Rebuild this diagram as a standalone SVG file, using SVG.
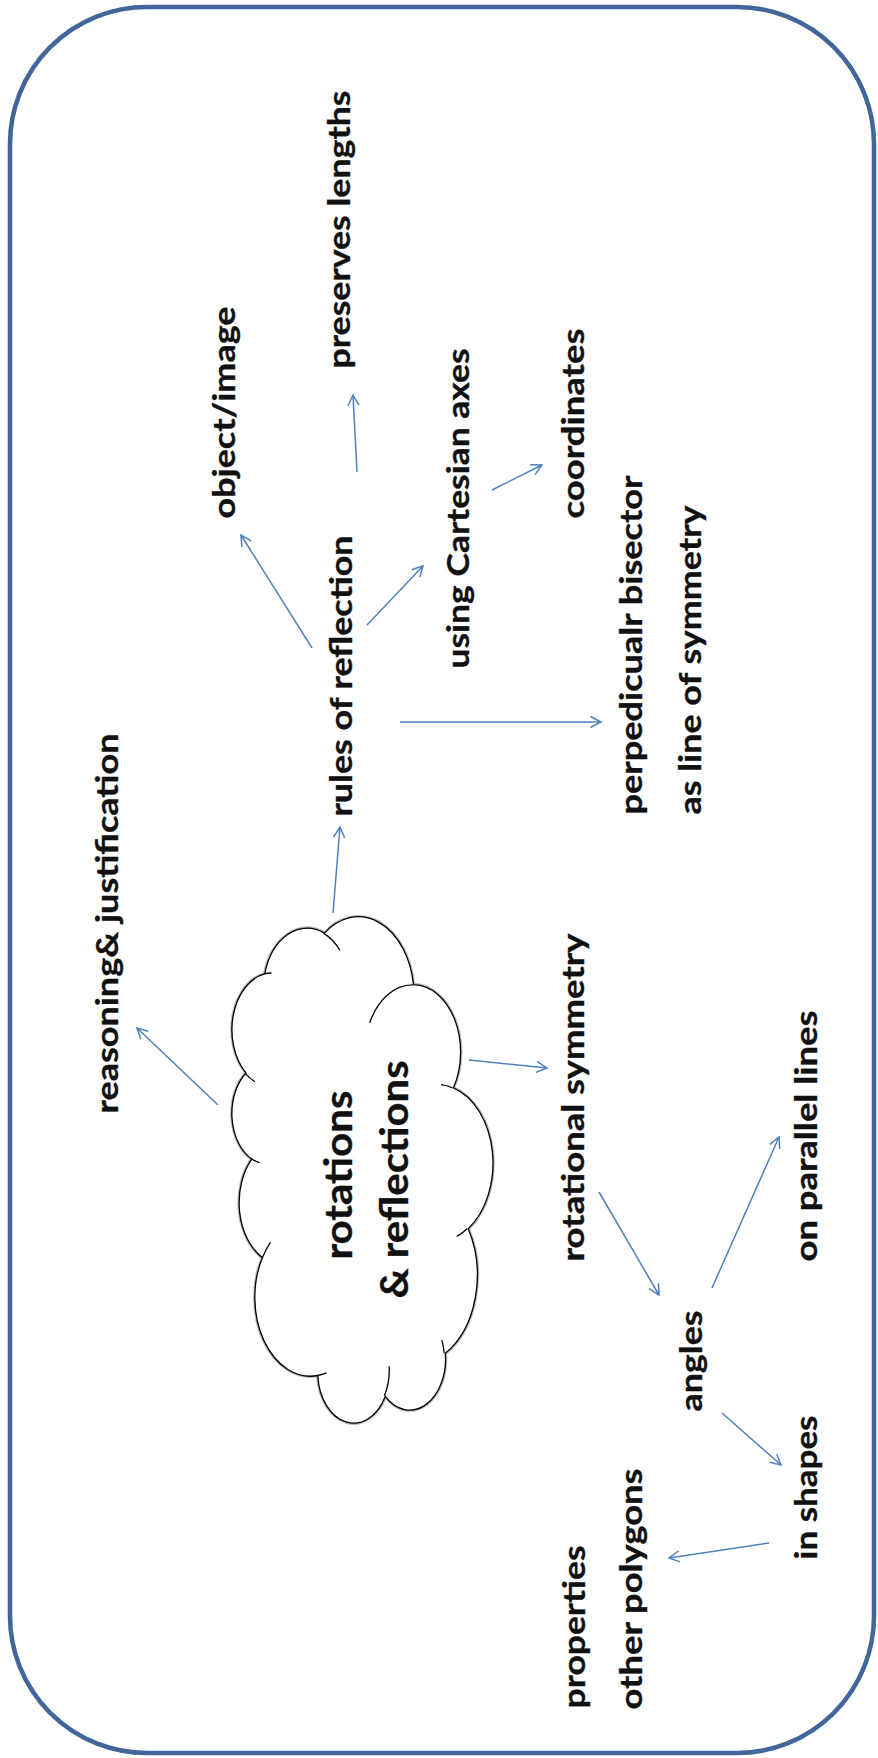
<svg xmlns="http://www.w3.org/2000/svg" width="878" height="1758" viewBox="0 0 878 1758">
  <style>
    .lbl { font-family: "Lato", "Open Sans", "Liberation Sans", sans-serif; font-weight: 700; font-size: 31px; fill: #111; stroke: #111; stroke-width: 0.35; }
    .big { font-size: 39px; }
    .edge { stroke: #4F81BD; stroke-width: 1.5; fill: none; marker-end: url(#arrow); }
    .cloud-shadow { fill: none; stroke: #b8b8b8; stroke-width: 3.5; }
    .cloud-body { fill: #fff; stroke: #000; stroke-width: 1.3; }
    .cloud-line { fill: none; stroke: #000; stroke-width: 1.3; }
  </style>
  <defs>
    <marker id="arrow" markerUnits="userSpaceOnUse" markerWidth="14" markerHeight="14" viewBox="0 0 14 14" refX="12" refY="7" orient="auto">
      <path d="M1.5,1.5 L12,7 L1.5,12.5" fill="none" stroke="#4F81BD" stroke-width="1.5"/>
    </marker>
  </defs>

  <rect x="0" y="0" width="878" height="1758" fill="#fff"/>

  <!-- frame -->
  <rect id="frame" x="10" y="7" width="864" height="1746" rx="137" ry="137" fill="#fff" stroke="#40669A" stroke-width="4.5"/>

  <!-- connectors -->
  <g id="connectors">
    <line class="edge" x1="333" y1="913" x2="340" y2="827"/>
    <line class="edge" x1="312" y1="648" x2="241" y2="535"/>
    <line class="edge" x1="357" y1="472" x2="353" y2="395"/>
    <line class="edge" x1="367" y1="625" x2="423" y2="566"/>
    <line class="edge" x1="492" y1="490" x2="542" y2="465"/>
    <line class="edge" x1="400" y1="722" x2="601" y2="722"/>
    <line class="edge" x1="218" y1="1105" x2="137" y2="1028"/>
    <line class="edge" x1="469" y1="1060" x2="547" y2="1068"/>
    <line class="edge" x1="599" y1="1192" x2="659" y2="1295"/>
    <line class="edge" x1="712" y1="1288" x2="779" y2="1137"/>
    <line class="edge" x1="722" y1="1413" x2="781" y2="1465"/>
    <line class="edge" x1="769" y1="1543" x2="669" y2="1558"/>
  </g>

  <!-- central cloud: drawn in 43200-unit shape space, then turned upright -->
  <g id="node-cloud">
    <g transform="matrix(0 -0.011667 0.006042 0 231 1421)">
      <path class="cloud-shadow" vector-effect="non-scaling-stroke" d="M3900,14370 A6753,9190 0 0 1 14004,5202 A5333,7267 0 0 1 22455,3432 A4365,5945 0 0 1 29832,2481 A4857,6595 0 0 1 38317,5576 A5333,7273 0 0 1 41818,15460 A6775,9220 0 0 1 37403,30202 A5785,7867 0 0 1 28555,36812 A6752,9215 0 0 1 16479,39263 A7720,10543 0 0 1 5804,35470 A4360,5918 0 0 1 2113,25547 A4345,5945 0 0 1 3900,14370 Z"/>
      <path class="cloud-body" vector-effect="non-scaling-stroke" d="M3900,14370 A6753,9190 0 0 1 14004,5202 A5333,7267 0 0 1 22455,3432 A4365,5945 0 0 1 29832,2481 A4857,6595 0 0 1 38317,5576 A5333,7273 0 0 1 41818,15460 A6775,9220 0 0 1 37403,30202 A5785,7867 0 0 1 28555,36812 A6752,9215 0 0 1 16479,39263 A7720,10543 0 0 1 5804,35470 A4360,5918 0 0 1 2113,25547 A4345,5945 0 0 1 3900,14370 Z"/>
      <path class="cloud-line" vector-effect="non-scaling-stroke" d="M4693,26177 A4345,5945 0 0 1 2159,25379 M6928,34899 A4360,5918 0 0 1 5820,35280 M16478,39090 A6752,9215 0 0 1 15810,37349 M28827,34751 A6752,9215 0 0 1 28560,36660 M34129,22954 A5785,7867 0 0 1 37381,30090 M41798,15354 A5333,7273 0 0 1 40350,18030 M38324,5426 A4857,6595 0 0 1 38400,6690 M29078,3952 A4857,6595 0 0 1 29820,2341 M22141,4720 A4365,5945 0 0 1 22500,3330 M14000,5192 A6753,9190 0 0 1 15301,6541 M4127,15789 A6753,9190 0 0 1 3900,14370"/>
    </g>
    <text class="lbl big" transform="translate(352,1259.5) rotate(-90)" textLength="169" lengthAdjust="spacingAndGlyphs">rotations</text>
    <text class="lbl big" transform="translate(408,1298.5) rotate(-90)" textLength="238" lengthAdjust="spacingAndGlyphs">&amp; reflections</text>
  </g>

  <g id="node-preserves">
    <text class="lbl" transform="translate(350,368.5) rotate(-90)" textLength="278" lengthAdjust="spacingAndGlyphs">preserves lengths</text>
  </g>
  <g id="node-object">
    <text class="lbl" transform="translate(235,518.5) rotate(-90)" textLength="212" lengthAdjust="spacingAndGlyphs">object/image</text>
  </g>
  <g id="node-cartesian">
    <text class="lbl" transform="translate(469,668.5) rotate(-90)" textLength="320" lengthAdjust="spacingAndGlyphs">using Cartesian axes</text>
  </g>
  <g id="node-coordinates">
    <text class="lbl" transform="translate(584,518.5) rotate(-90)" textLength="190" lengthAdjust="spacingAndGlyphs">coordinates</text>
  </g>
  <g id="node-bisector">
    <text class="lbl" transform="translate(642,814.5) rotate(-90)" textLength="339" lengthAdjust="spacingAndGlyphs">perpedicualr bisector</text>
    <text class="lbl" transform="translate(701,814.5) rotate(-90)" textLength="309" lengthAdjust="spacingAndGlyphs">as line of symmetry</text>
  </g>
  <g id="node-rules">
    <text class="lbl" transform="translate(352,816.5) rotate(-90)" textLength="281" lengthAdjust="spacingAndGlyphs">rules of reflection</text>
  </g>
  <g id="node-reasoning">
    <text class="lbl" transform="translate(118,1113.5) rotate(-90)" textLength="380" lengthAdjust="spacingAndGlyphs">reasoning&amp; justification</text>
  </g>
  <g id="node-rotational">
    <text class="lbl" transform="translate(584,1261.5) rotate(-90)" textLength="328" lengthAdjust="spacingAndGlyphs">rotational symmetry</text>
  </g>
  <g id="node-parallel">
    <text class="lbl" transform="translate(817,1261.5) rotate(-90)" textLength="251" lengthAdjust="spacingAndGlyphs">on parallel lines</text>
  </g>
  <g id="node-angles">
    <text class="lbl" transform="translate(702,1411.5) rotate(-90)" textLength="101" lengthAdjust="spacingAndGlyphs">angles</text>
  </g>
  <g id="node-shapes">
    <text class="lbl" transform="translate(817,1559.5) rotate(-90)" textLength="144" lengthAdjust="spacingAndGlyphs">in shapes</text>
  </g>
  <g id="node-polygons">
    <text class="lbl" transform="translate(585,1708.5) rotate(-90)" textLength="163" lengthAdjust="spacingAndGlyphs">properties</text>
    <text class="lbl" transform="translate(642,1709.5) rotate(-90)" textLength="241" lengthAdjust="spacingAndGlyphs">other polygons</text>
  </g>
</svg>
